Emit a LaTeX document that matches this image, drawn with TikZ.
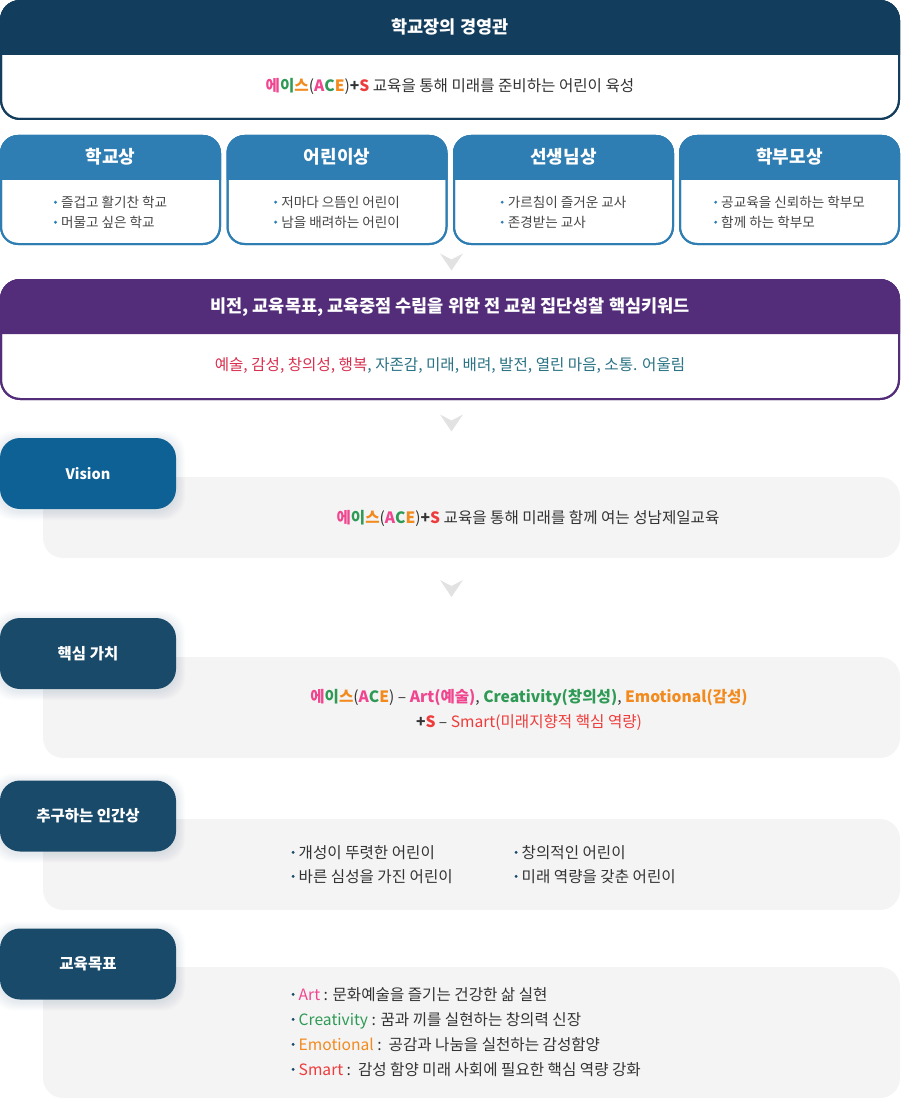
\documentclass[tikz,border=0pt]{standalone}
\usepackage{fontspec}
\setmainfont{Noto Sans CJK KR}
\definecolor{navy}{HTML}{133D5C}
\definecolor{midblue}{HTML}{2F7EB3}
\definecolor{purp}{HTML}{532D7A}
\definecolor{visblue}{HTML}{0E6194}
\definecolor{tabblue}{HTML}{1A4A6A}
\definecolor{panelgrey}{HTML}{F4F4F4}
\definecolor{txt}{HTML}{333333}
\definecolor{chev}{HTML}{E2E2E2}
\definecolor{shadowc}{HTML}{4A6A8A}
\definecolor{cpink}{HTML}{F0468F}
\definecolor{cgreen}{HTML}{2E9A55}
\definecolor{corange}{HTML}{F28A1E}
\definecolor{cred}{HTML}{EE3B3B}
\definecolor{kred}{HTML}{D93050}
\definecolor{kteal}{HTML}{2A7384}
\newcommand{\bdot}[1]{\tikz[baseline=0pt,x=1pt,y=1pt]{\fill[#1] (1.6pt,0.36em) circle[radius=1.6pt];}\hspace{4pt}}
\newcommand{\ACEword}{{\bfseries\textcolor{cpink}{에}\textcolor{cgreen}{이}\textcolor{corange}{스}}(\textbf{\textcolor{cpink}{A}\textcolor{cgreen}{C}\textcolor{corange}{E}})}
\newcommand{\tabshadow}[2]{\foreach \k in {1,...,9}{\fill[shadowc, opacity=0.014, rounded corners=22pt] ({0-\k},{#1-\k+2}) rectangle ({176+\k},{#2+\k+2});}}
\tikzset{
  tabbox/.style={minimum width=176pt, minimum height=71pt, rounded corners=20pt, text=white,
    font=\fontsize{15.5}{18}\selectfont\bfseries},
  panelbox/.style={fill=panelgrey, rounded corners=20pt},
  chevron/.pic={\fill[chev] (-11.5,-8) -- (0,-2) -- (11.5,-8) -- (0,9) -- cycle;},
  hdtext/.style={text=white, font=\fontsize{17.5}{20}\selectfont\bfseries},
  boxhd/.style={text=white, font=\fontsize{18}{21}\selectfont\bfseries},
  bodytext/.style={text=txt, font=\fontsize{15.6}{18}\selectfont},
  smalltext/.style={text=txt!90, font=\fontsize{13.6}{20}\selectfont, align=left},
  itemtext/.style={text=txt, font=\fontsize{15.6}{18}\selectfont, anchor=base west},
}
\begin{document}
\begin{tikzpicture}[x=1pt,y=-1pt]
\useasboundingbox (0,0) rectangle (900,1099);
% ---- top box
\draw[navy, line width=2pt, fill=white, rounded corners=19pt] (1,1) rectangle (899,119);
\fill[navy] (0,55) [rounded corners=20pt] -- (0,0) -- (900,0) [sharp corners] -- (900,55) -- cycle;
\draw[navy, line width=2pt, rounded corners=19pt] (1,1) rectangle (899,119);
\node[hdtext] (toptitle) at (450,27) {학교장의 경영관};
\node[bodytext] (topbody) at (450,86) {\ACEword\textbf{+}\textbf{\textcolor{cred}{S}} 교육을 통해 미래를 준비하는 어린이 육성};
% ---- four boxes
\foreach \x/\n/\t/\a/\b in {0/b1/학교상/즐겁고 활기찬 학교/머물고 싶은 학교,
    226.5/b2/어린이상/저마다 으뜸인 어린이/남을 배려하는 어린이,
    453/b3/선생님상/가르침이 즐거운 교사/존경받는 교사,
    679/b4/학부모상/공교육을 신뢰하는 학부모/함께 하는 학부모}{
  \draw[midblue, line width=2pt, fill=white, rounded corners=17pt] ({\x+1},136) rectangle ({\x+220},244);
  \fill[midblue] (\x,180) [rounded corners=18pt] -- (\x,135) -- ({\x+221},135) [sharp corners] -- ({\x+221},180) -- cycle;
  \draw[midblue, line width=2pt, rounded corners=17pt] ({\x+1},136) rectangle ({\x+220},244);
  \node[boxhd] (\n h) at ({\x+110.5},157) {\t};
  \node[smalltext] (\n t) at ({\x+110.5},212) {\bdot{midblue}\a\\ \bdot{midblue}\b};
}
% ---- chevrons
\pic at (451.5,261.5) {chevron};
\pic at (451.5,422.5) {chevron};
\pic at (451.5,588) {chevron};
% ---- purple box
\draw[purp, line width=2pt, fill=white, rounded corners=19pt] (1,280) rectangle (899,399);
\fill[purp] (0,334) [rounded corners=20pt] -- (0,279) -- (900,279) [sharp corners] -- (900,334) -- cycle;
\draw[purp, line width=2pt, rounded corners=19pt] (1,280) rectangle (899,399);
\node[hdtext] (ptitle) at (450,307) {비전, 교육목표, 교육중점 수립을 위한 전 교원 집단성찰 핵심키워드};
\node[bodytext] (pbody) at (450,365) {\textcolor{kred}{예술, 감성, 창의성, 행복}\textcolor{kteal}{, 자존감, 미래, 배려, 발전, 열린 마음, 소통. 어울림}};
% ---- panels
\path[panelbox] (43,477) rectangle (900,558);
\path[panelbox] (43,657) rectangle (900,758);
\path[panelbox] (43,819) rectangle (900,910);
\path[panelbox] (43,967) rectangle (900,1098);
% ---- tab shadows
\tabshadow{438}{509}
\tabshadow{618}{689}
\tabshadow{780.5}{851.5}
\tabshadow{928.5}{999.5}
% ---- tabs
\node[tabbox, fill=visblue, font=\fontsize{14.5}{18}\selectfont\bfseries] (vision) at (88,473.5) {Vision};
\node[tabbox, fill=tabblue] (core) at (88,653.5) {핵심 가치};
\node[tabbox, fill=tabblue] (human) at (88,816) {추구하는 인간상};
\node[tabbox, fill=tabblue] (goal) at (88,964) {교육목표};
% ---- vision text
\node[bodytext] (vtext) at (528,518) {\ACEword\textbf{+}\textbf{\textcolor{cred}{S}} 교육을 통해 미래를 함께 여는 성남제일교육};
% ---- core values
\node[bodytext, font=\fontsize{15.6}{25}\selectfont, align=center] (ctext) at (529,709.5)
  {\ACEword{} – \textbf{\textcolor{cpink}{Art(예술)}}, \textbf{\textcolor{cgreen}{Creativity(창의성)}}, \textbf{\textcolor{corange}{Emotional(감성)}}\\
   \textbf{+\textcolor{cred}{S}} – \textcolor{cred}{Smart(미래지향적 핵심 역량)}};
% ---- human
\node[itemtext] (h1) at (288,858) {\bdot{tabblue}개성이 뚜렷한 어린이};
\node[itemtext] (h2) at (288,882) {\bdot{tabblue}바른 심성을 가진 어린이};
\node[itemtext] (h3) at (511,858) {\bdot{tabblue}창의적인 어린이};
\node[itemtext] (h4) at (511,882) {\bdot{tabblue}미래 역량을 갖춘 어린이};
% ---- goals
\node[itemtext] (g1) at (288,1000) {\bdot{tabblue}\textcolor{cpink}{Art} : 문화예술을 즐기는 건강한 삶 실현};
\node[itemtext] (g2) at (288,1025) {\bdot{tabblue}\textcolor{cgreen}{Creativity} : 꿈과 끼를 실현하는 창의력 신장};
\node[itemtext] (g3) at (288,1050) {\bdot{tabblue}\textcolor{corange}{Emotional} :\ \ 공감과 나눔을 실천하는 감성함양};
\node[itemtext] (g4) at (288,1075) {\bdot{tabblue}\textcolor{cred}{Smart} :\ \ 감성 함양 미래 사회에 필요한 핵심 역량 강화};
\end{tikzpicture}
\end{document}
